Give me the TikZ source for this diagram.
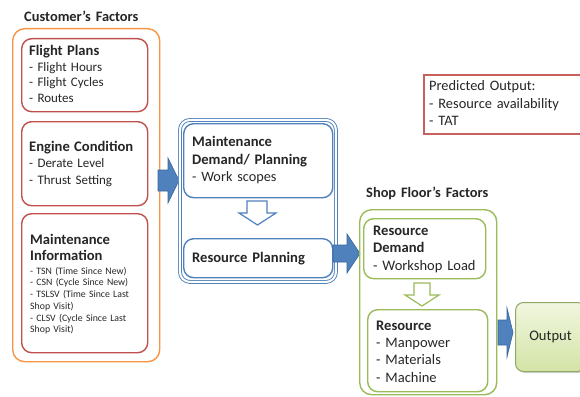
\documentclass[tikz,border=0pt]{standalone}
\usepackage{fontspec}
\setmainfont{Carlito}
\usetikzlibrary{shadows}
\definecolor{corange}{HTML}{F79646}
\definecolor{cred}{HTML}{C0504D}
\definecolor{cblue}{HTML}{4F81BD}
\definecolor{cbluedark}{HTML}{3A679C}
\definecolor{cgreen}{HTML}{9BBB59}
\definecolor{ctext}{HTML}{262626}
\definecolor{outtop}{HTML}{F1F6DF}
\definecolor{outbot}{HTML}{D3E4A6}
\definecolor{outedge}{HTML}{8FA866}
\tikzset{
  box/.style={draw, rounded corners=10pt, line width=1.4pt, inner sep=0pt, anchor=north west},
  txt/.style={anchor=base west, inner sep=0pt, text width=170pt, align=left, text=ctext},
  blockarrow/.style={fill=cblue, draw=cbluedark, line width=0.6pt, line join=miter},
  hollowarrow/.style={fill=white, line width=1.2pt, line join=miter},
}
\newcommand{\hd}{\fontsize{14.6}{16}\selectfont\bfseries}
\begin{document}
\begin{tikzpicture}[x=1pt,y=-1pt]
\useasboundingbox (0,0) rectangle (580,396);
\fill[white] (0,0) rectangle (580,396);

% Customer's factors
\node[txt, font={\fontsize{14.4}{16}\selectfont\bfseries}] (tcust) at (24,21.7) {Customer’s Factors};
\node[box, draw=corange, rounded corners=12pt, minimum width=147pt, minimum height=333pt] (cust) at (12,28) {};
\node[box, draw=cred, minimum width=126pt, minimum height=73pt] (fp) at (21,38) {};
\node[box, draw=cred, minimum width=126pt, minimum height=84pt] (ec) at (21,121) {};
\node[box, draw=cred, minimum width=126pt, minimum height=139pt] (mi) at (21,213) {};

\node[txt, font={\fontsize{13}{15.4}\selectfont}] (tfp) at (29,56) {{\hd Flight Plans}\\- Flight Hours\\- Flight Cycles\\- Routes};
\node[txt, font={\fontsize{13}{16.2}\selectfont}] (tec) at (29,151.7) {{\hd Engine Condition}\\- Derate Level\\- Thrust Setting};
\node[txt, font={\fontsize{14.6}{16.4}\selectfont\bfseries}] (tmi) at (30,244.3) {Maintenance\\Information};
\node[txt, font={\fontsize{9.8}{11.75}\selectfont}] (tmi2) at (30,274) {- TSN (Time Since New)\\- CSN (Cycle Since New)\\- TSLSV (Time Since Last\\Shop Visit)\\- CLSV (Cycle Since Last\\Shop Visit)};

% arrow 1
\draw[blockarrow] (158,170) -- (168,170) -- (168,158) -- (179,180.5) -- (168,203) -- (168,191) -- (158,191) -- cycle;

% Maintenance planning
\node[box, draw=cblue, line width=0.9pt, double=white, double distance=2pt, minimum width=156pt, minimum height=162pt] (plan) at (179.5,119.5) {};
\node[box, draw=cblue, minimum width=149pt, minimum height=74pt] (md) at (183,123) {};
\node[box, draw=cblue, minimum width=149pt, minimum height=39pt] (rp) at (183,238) {};
\node[txt, font={\fontsize{14.3}{17.5}\selectfont}] (tmd) at (192,146.7) {{\hd Maintenance}\\{\hd Demand/ Planning}\\- Work scopes};
\node[txt, font=\hd] (trp) at (192,262.3) {Resource Planning};
\draw[hollowarrow, draw=cblue] (247,201) -- (267,201) -- (267,213) -- (276,213) -- (257.5,225) -- (239,213) -- (247,213) -- cycle;

% arrow 2
\draw[blockarrow] (333,245) -- (347,245) -- (347,234) -- (360,253.5) -- (347,273) -- (347,262) -- (333,262) -- cycle;

% Predicted output
\node[box, draw=cred!90, rounded corners=0pt, line width=1.6pt, minimum width=170pt, minimum height=59pt] (pred) at (423,74) {};
\node[txt, font={\fontsize{14.4}{17.3}\selectfont}] (tpred) at (429,90.7) {Predicted Output:\\- Resource availability\\- TAT};

% Shop floor
\node[txt, font={\fontsize{14.4}{16}\selectfont\bfseries}] (tshop) at (366,197.7) {Shop Floor’s Factors};
\node[box, draw=cgreen, rounded corners=12pt, minimum width=137pt, minimum height=185pt] (shop) at (359,209) {};
\node[box, draw=cgreen, minimum width=122pt, minimum height=60pt] (rd) at (363,218) {};
\node[box, draw=cgreen, minimum width=120pt, minimum height=82pt] (res) at (367,309) {};
\node[txt, font={\fontsize{14.5}{17.8}\selectfont}] (trd) at (373,235) {{\hd Resource}\\{\hd Demand}\\- Workshop Load};
\node[txt, font={\fontsize{14.5}{17.4}\selectfont}] (tres) at (376,330) {{\hd Resource}\\- Manpower\\- Materials\\- Machine};
\draw[hollowarrow, draw=cgreen] (414,283) -- (430,283) -- (430,295) -- (439,295) -- (422,306) -- (405,295) -- (414,295) -- cycle;

% arrow 3
\draw[blockarrow] (498,320) -- (507,320) -- (507,308) -- (513,332.5) -- (507,357) -- (507,345) -- (498,345) -- cycle;

% Output
\node[box, draw=outedge, line width=1pt, rounded corners=8pt, top color=outtop, bottom color=outbot,
  drop shadow={shadow xshift=1.5pt, shadow yshift=-1.5pt, opacity=0.35},
  minimum width=70pt, minimum height=69pt, font=\fontsize{14.6}{16}\selectfont, text=ctext] (out) at (515,302) {Output};
\end{tikzpicture}
\end{document}
